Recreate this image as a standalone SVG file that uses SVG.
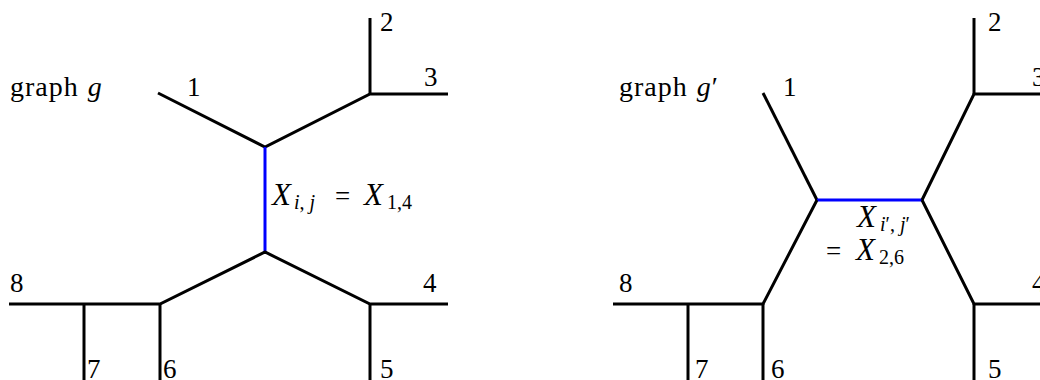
<svg xmlns="http://www.w3.org/2000/svg" width="1040" height="380" viewBox="0 0 1040 380">
<style>
.e{stroke:#000;stroke-width:3;fill:none;stroke-linecap:butt;stroke-linejoin:miter}
.b{stroke:#0000ff;stroke-width:3;fill:none}
text{font-family:"Liberation Serif","DejaVu Serif",serif;font-size:27px;fill:#000}
.g{font-size:28px;letter-spacing:1px;word-spacing:1px}
.i{font-style:italic}
.x{font-style:italic;font-size:31px}
.s{font-size:20px}
</style>
<rect width="1040" height="380" fill="#fff"/>
<g id="connectors">
<!-- left graph g -->
<polyline class="e" points="158,93 265,147 370,94 448,94"/>
<line class="e" x1="370" y1="94" x2="370" y2="18"/>
<line class="b" x1="265" y1="147" x2="265" y2="252"/>
<polyline class="e" points="9,304 160,304 265,252 370,304 448,304"/>
<line class="e" x1="84" y1="304" x2="84" y2="380"/>
<line class="e" x1="160" y1="304" x2="160" y2="380"/>
<line class="e" x1="370" y1="304" x2="370" y2="380"/>
<!-- right graph g' -->
<polyline class="e" points="763,93 817,200"/>
<line class="b" x1="817" y1="200" x2="922" y2="200"/>
<polyline class="e" points="922,200 974,94 1040,94"/>
<line class="e" x1="974" y1="94" x2="974" y2="18"/>
<polyline class="e" points="922,200 974,304 1040,304"/>
<line class="e" x1="974" y1="304" x2="974" y2="380"/>
<polyline class="e" points="817,200 763,304 613,304"/>
<line class="e" x1="763" y1="304" x2="763" y2="380"/>
<line class="e" x1="688" y1="304" x2="688" y2="380"/>
</g>
<g id="graph-g">
<text class="g" x="10" y="96">graph <tspan class="i">g</tspan></text>
<text x="187" y="96">1</text>
<text x="380" y="31">2</text>
<text x="424" y="86">3</text>
<text x="423" y="292">4</text>
<text x="380" y="378">5</text>
<text x="163" y="378">6</text>
<text x="87" y="378">7</text>
<text x="10" y="292">8</text>
<text y="205"><tspan x="272" class="x">X</tspan><tspan x="294" dy="4" class="s i">i</tspan><tspan class="s">, </tspan><tspan class="s i">j</tspan><tspan x="335" dy="-4">=</tspan><tspan x="364" class="x">X</tspan><tspan x="387" dy="4" class="s">1,4</tspan></text>
</g>
<g id="graph-g-prime">
<text class="g" x="619" y="96">graph <tspan class="i">g</tspan>′</text>
<text x="783" y="96">1</text>
<text x="988" y="31">2</text>
<text x="1032" y="86">3</text>
<text x="1032" y="292">4</text>
<text x="988" y="378">5</text>
<text x="771" y="378">6</text>
<text x="695" y="378">7</text>
<text x="619" y="292">8</text>
<text y="227"><tspan x="857" class="x">X</tspan><tspan x="880" dy="4" class="s i">i</tspan><tspan class="s">′, </tspan><tspan class="s i">j</tspan><tspan class="s">′</tspan></text>
<text y="260"><tspan x="826">=</tspan><tspan x="856" class="x">X</tspan><tspan x="879" dy="4" class="s">2,6</tspan></text>
</g>
</svg>
